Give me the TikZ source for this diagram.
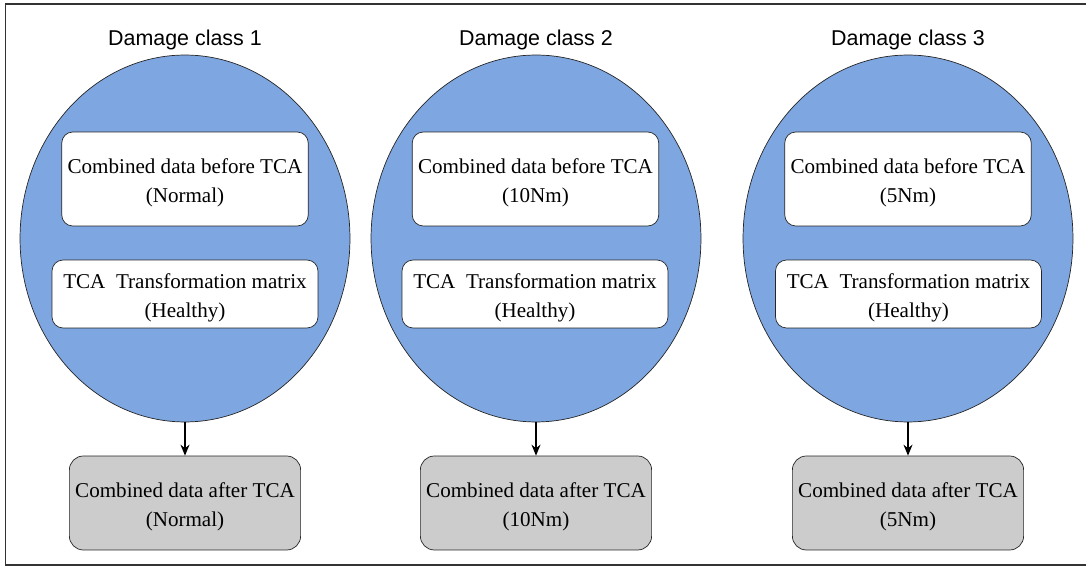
\documentclass[tikz,border=0pt]{standalone}
\usepackage{fontspec}
\setmainfont{Liberation Serif}
\newfontfamily\titlefont{Liberation Sans}
\usepackage{xcolor}
\usetikzlibrary{positioning,arrows,arrows.meta,shapes.geometric}

\definecolor{classblue}{HTML}{7EA6E0}
\definecolor{aftergray}{HTML}{CCCCCC}
\newcommand\upstrut{\rule{0pt}{12.8pt}}

\tikzset{
	cls/.style={ellipse,draw=black!85,fill=classblue,minimum width=6.6cm,minimum height=7.34cm,inner sep=0pt},
	boxtext/.style={align=center,inner ysep=2pt,font=\fontsize{12}{16.5}\selectfont},
	before/.style={boxtext,draw=black!85,fill=white,rounded corners=0.22cm,minimum width=4.88cm,minimum height=1.88cm},
	matrixbox/.style={boxtext,draw=black!85,fill=white,rounded corners=0.22cm,minimum width=5.32cm,minimum height=1.36cm},
	after/.style={boxtext,draw=black!85,fill=aftergray,rounded corners=0.28cm,minimum width=4.56cm,minimum height=1.88cm},
	title/.style={font=\titlefont\fontsize{12.2}{14}\selectfont},
	down/.style={-{Stealth[length=2.2mm,width=1.8mm]},line width=0.9pt}
}

\begin{document}
\begin{tikzpicture}[x=0.02cm,y=-0.02cm]
	\useasboundingbox (0,0) rectangle (1086,567);
	\draw[black!80,line width=0.9pt] (5.5,4) rectangle (1090,565);

	% damage class 1
	\node[title] (t1) at (185,40) {Damage class 1};
	\node[cls] (c1) at (185,238.5) {};
	\node[before] (b1) at (185,179) {\upstrut Combined data before TCA\\(Normal)};
	\node[matrixbox] (m1) at (185,294) {\upstrut TCA~ Transformation matrix\\(Healthy)};
	\node[after] (a1) at (185,503) {\upstrut Combined data after TCA\\(Normal)};
	\draw[down] (c1.south) -- (a1.north);

	% damage class 2
	\node[title] (t2) at (536,40) {Damage class 2};
	\node[cls] (c2) at (536,238.5) {};
	\node[before] (b2) at (535.5,179) {\upstrut Combined data before TCA\\(10Nm)};
	\node[matrixbox] (m2) at (535,294) {\upstrut TCA~ Transformation matrix\\(Healthy)};
	\node[after] (a2) at (536,503) {\upstrut Combined data after TCA\\(10Nm)};
	\draw[down] (c2.south) -- (a2.north);

	% damage class 3
	\node[title] (t3) at (908,40) {Damage class 3};
	\node[cls] (c3) at (908,238.5) {};
	\node[before] (b3) at (908,179) {\upstrut Combined data before TCA\\(5Nm)};
	\node[matrixbox] (m3) at (908.5,294) {\upstrut TCA~ Transformation matrix\\(Healthy)};
	\node[after] (a3) at (908,503) {\upstrut Combined data after TCA\\(5Nm)};
	\draw[down] (c3.south) -- (a3.north);
\end{tikzpicture}
\end{document}
